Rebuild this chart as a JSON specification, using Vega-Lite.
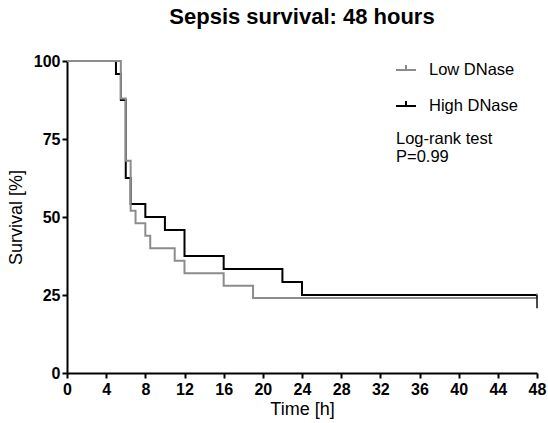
{
  "$schema": "https://vega.github.io/schema/vega-lite/v6.json",
  "autosize": "none",
  "width": 470,
  "height": 312,
  "padding": {"left": 67, "top": 61, "right": 11, "bottom": 50},
  "background": "white",
  "title": {"text": "Sepsis survival: 48 hours", "font": "Liberation Sans", "fontSize": 22, "fontWeight": "bold", "color": "black", "anchor": "middle", "offset": 24},
  "config": {
    "view": {"stroke": null},
    "font": "Liberation Sans",
    "axis": {"domainColor": "black", "domainWidth": 2, "tickColor": "black", "tickWidth": 2, "tickSize": 5, "labelFont": "Liberation Sans", "labelFontSize": 16, "labelFontWeight": "bold", "labelColor": "black", "titleFont": "Liberation Sans", "titleFontSize": 18, "titleFontWeight": "normal", "titleColor": "black", "grid": false, "labelOverlap": false}
  },
  "datasets": {
    "km": [
      {"group": "High DNase", "t": 0, "s": 100},
      {"group": "High DNase", "t": 5, "s": 95.8},
      {"group": "High DNase", "t": 5.5, "s": 87.5},
      {"group": "High DNase", "t": 6, "s": 62.5},
      {"group": "High DNase", "t": 6.5, "s": 54.2},
      {"group": "High DNase", "t": 8, "s": 50},
      {"group": "High DNase", "t": 10, "s": 45.8},
      {"group": "High DNase", "t": 12, "s": 37.5},
      {"group": "High DNase", "t": 16, "s": 33.3},
      {"group": "High DNase", "t": 22, "s": 29.2},
      {"group": "High DNase", "t": 24, "s": 25},
      {"group": "High DNase", "t": 48, "s": 25},
      {"group": "Low DNase", "t": 0, "s": 100},
      {"group": "Low DNase", "t": 5.5, "s": 88},
      {"group": "Low DNase", "t": 6, "s": 68},
      {"group": "Low DNase", "t": 6.5, "s": 52},
      {"group": "Low DNase", "t": 7, "s": 48},
      {"group": "Low DNase", "t": 8, "s": 44},
      {"group": "Low DNase", "t": 8.5, "s": 40},
      {"group": "Low DNase", "t": 11, "s": 36},
      {"group": "Low DNase", "t": 12, "s": 32},
      {"group": "Low DNase", "t": 16, "s": 28},
      {"group": "Low DNase", "t": 19, "s": 24},
      {"group": "Low DNase", "t": 48, "s": 24}
    ],
    "note": [{"label": "Log-rank test\nP=0.99"}]
  },
  "layer": [
    {
      "data": {"name": "km"},
      "mark": {"type": "line", "interpolate": "step-after", "strokeWidth": 2},
      "encoding": {
        "x": {"field": "t", "type": "quantitative", "scale": {"domain": [0, 48], "nice": false, "zero": true}, "axis": {"values": [0,4,8,12,16,20,24,28,32,36,40,44,48], "title": "Time [h]", "labelPadding": 3, "titlePadding": 3, "labelFlush": false}},
        "y": {"field": "s", "type": "quantitative", "scale": {"domain": [0, 100], "nice": false}, "axis": {"values": [0,25,50,75,100], "title": "Survival [%]", "labelPadding": 2, "titlePadding": 8}},
        "stroke": {"field": "group", "type": "nominal", "scale": {"domain": ["Low DNase", "High DNase"], "range": ["#8c8c8c", "#000000"]},
          "legend": {"title": null, "orient": "none", "legendX": 328, "legendY": -2, "symbolType": "M-1,0H1M0,0V-0.5", "symbolSize": 400, "symbolStrokeWidth": 2, "labelFont": "Liberation Sans", "labelFontSize": 16.5, "labelColor": "black", "labelOffset": 12, "rowPadding": 16, "symbolFillColor": "transparent"}}
      }
    },
    {
      "data": {"name": "km"},
      "transform": [{"filter": "datum.t == 48 && datum.group == 'Low DNase'"}],
      "mark": {"type": "point", "filled": false, "strokeWidth": 2, "size": 576, "shape": "M0,0V-0.4", "stroke": "#8c8c8c"},
      "encoding": {
        "x": {"field": "t", "type": "quantitative", "axis": {"values": [0,4,8,12,16,20,24,28,32,36,40,44,48], "title": "Time [h]", "labelPadding": 3, "titlePadding": 3, "labelFlush": false}},
        "y": {"field": "s", "type": "quantitative", "axis": {"values": [0,25,50,75,100], "title": "Survival [%]", "labelPadding": 2, "titlePadding": 8}}
      }
    },
    {
      "data": {"name": "km"},
      "transform": [{"filter": "datum.t == 48 && datum.group == 'High DNase'"}],
      "mark": {"type": "point", "filled": false, "strokeWidth": 2, "size": 576, "shape": "M0,0V1.1", "stroke": "#000000"},
      "encoding": {
        "x": {"field": "t", "type": "quantitative", "axis": {"values": [0,4,8,12,16,20,24,28,32,36,40,44,48], "title": "Time [h]", "labelPadding": 3, "titlePadding": 3, "labelFlush": false}},
        "y": {"field": "s", "type": "quantitative", "axis": {"values": [0,25,50,75,100], "title": "Survival [%]", "labelPadding": 2, "titlePadding": 8}}
      }
    },
    {
      "data": {"name": "note"},
      "mark": {"type": "text", "align": "left", "baseline": "top", "fontSize": 16.5, "font": "Liberation Sans", "color": "black", "lineHeight": 18, "lineBreak": "\n"},
      "encoding": {
        "x": {"datum": 33.6, "type": "quantitative", "axis": {"values": [0,4,8,12,16,20,24,28,32,36,40,44,48], "title": "Time [h]", "labelPadding": 3, "titlePadding": 3, "labelFlush": false}},
        "y": {"datum": 77.6, "type": "quantitative", "axis": {"values": [0,25,50,75,100], "title": "Survival [%]", "labelPadding": 2, "titlePadding": 8}},
        "text": {"field": "label", "type": "nominal"}
      }
    }
  ]
}
